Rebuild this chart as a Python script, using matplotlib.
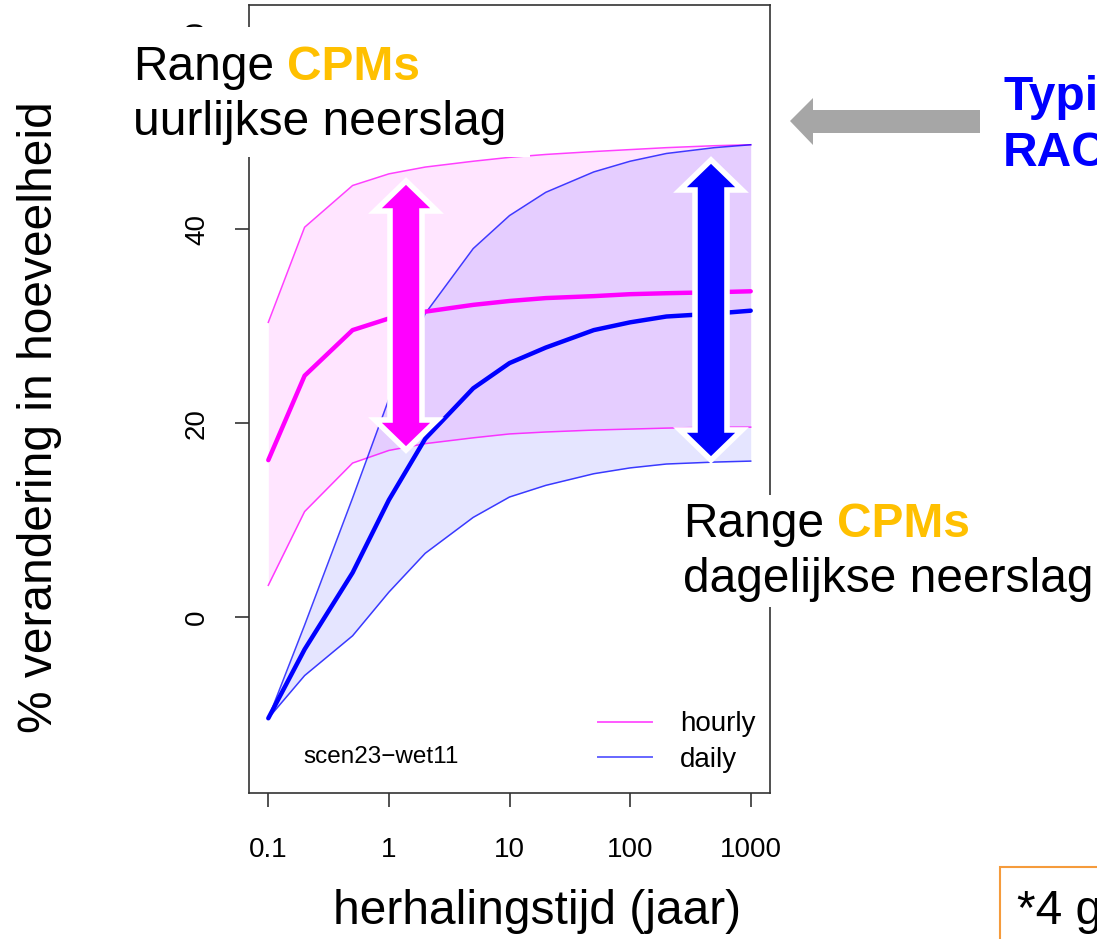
import numpy as np
import matplotlib
matplotlib.use("Agg")
import matplotlib.pyplot as plt
from matplotlib.patches import Polygon, Rectangle

plt.rcParams["font.family"] = ["Liberation Sans", "DejaVu Sans"]

# return periods (years) and % change in amount
periods = [0.1, 0.2, 0.5, 1, 2, 5, 10, 20, 50, 100, 200, 500, 1000]
hourly_mean = [16.2, 24.9, 29.6, 30.8, 31.5, 32.2, 32.6, 32.9, 33.1, 33.3, 33.4, 33.5, 33.6]
hourly_hi = [30.4, 40.2, 44.5, 45.7, 46.4, 47.0, 47.4, 47.7, 48.0, 48.2, 48.4, 48.6, 48.7]
hourly_lo = [3.3, 10.9, 15.9, 17.2, 17.9, 18.5, 18.9, 19.1, 19.3, 19.4, 19.5, 19.6, 19.6]
daily_mean = [-10.4, -3.3, 4.6, 12.1, 18.4, 23.6, 26.2, 27.8, 29.6, 30.4, 31.0, 31.3, 31.6]
daily_hi = [-10.4, -0.8, 12.3, 22.5, 31.3, 38.0, 41.4, 43.8, 45.9, 47.0, 47.8, 48.4, 48.7]
daily_lo = [-10.4, -6.0, -1.9, 2.6, 6.6, 10.3, 12.4, 13.6, 14.8, 15.4, 15.8, 16.0, 16.1]

xticks = [0.1, 1, 10, 100, 1000]
xticklabels = ["0.1", "1", "10", "100", "1000"]
yticks = [0, 20, 40, 60]

W, H = 1097, 939
ORANGE = "#FFC000"

fig = plt.figure(figsize=(W / 100, H / 100), dpi=100)
ax = fig.add_axes([249 / W, 1 - 793 / H, 521 / W, 788 / H])

ax.fill_between(periods, hourly_lo, hourly_hi, color="magenta", alpha=0.1, lw=0)
ax.fill_between(periods, daily_lo, daily_hi, color="blue", alpha=0.1, lw=0)
for lo, hi, c in [(hourly_lo, hourly_hi, "magenta"), (daily_lo, daily_hi, "blue")]:
    ax.plot(periods, lo, color=c, lw=1.1, alpha=0.75)
    ax.plot(periods, hi, color=c, lw=1.1, alpha=0.75)
ax.plot(periods, hourly_mean, color="magenta", lw=3.2, solid_capstyle="round")
ax.plot(periods, daily_mean, color="blue", lw=3.2, solid_capstyle="round")

ax.set_xscale("log")
ax.set_xlim(10 ** -1.16, 10 ** 3.16)
ax.set_ylim(-18.1, 63.1)
ax.set_xticks(xticks)
ax.set_xticklabels(xticklabels)
ax.minorticks_off()
ax.set_yticks(yticks)
ax.tick_params(axis="both", length=10, width=1.2, color="#333333", labelsize=20)
ax.tick_params(axis="x", pad=22)
ax.tick_params(axis="y", pad=18)
for lab in ax.get_yticklabels():
    lab.set_rotation(90)
    lab.set_va("center")
for s in ax.spines.values():
    s.set_color("#333333")
    s.set_linewidth(1.2)

ax.set_xlabel("herhalingstijd (jaar)", fontsize=34.5)
ax.set_ylabel("% verandering in hoeveelheid", fontsize=34.5)
ax.yaxis.set_label_coords(-(249 - 62) / 521, 0.477)
ax.xaxis.set_label_coords(0.5 + 28 / 521, -(889 - 793) / 788)

ax.text(0.104, 0.046, "scen23\u2212wet11", transform=ax.transAxes, fontsize=17.5, va="center")

h1, = ax.plot([], [], color="magenta", lw=1.4, alpha=0.65)
h2, = ax.plot([], [], color="blue", lw=1.4, alpha=0.6)
ax.legend([h1, h2], ["hourly", "daily"], loc="lower left", bbox_to_anchor=(0.632, 0.001),
          frameon=False, fontsize=20, handlelength=1.95, handletextpad=1.0,
          labelspacing=0.34, borderpad=0.2)

# overlay in pixel coordinates for the callouts
ov = fig.add_axes([0, 0, 1, 1], zorder=5)
ov.set_xlim(0, W)
ov.set_ylim(H, 0)
ov.axis("off")
ov.patch.set_alpha(0)


def double_arrow(cx, top, bottom, color):
    sw, hw, hl = 16, 31, 30
    pts = [(cx, top), (cx + hw, top + hl), (cx + sw, top + hl), (cx + sw, bottom - hl),
           (cx + hw, bottom - hl), (cx, bottom), (cx - hw, bottom - hl), (cx - sw, bottom - hl),
           (cx - sw, top + hl), (cx - hw, top + hl)]
    ov.add_patch(Polygon(pts, closed=True, facecolor=color, edgecolor="white",
                         lw=4, joinstyle="miter"))


double_arrow(406, 181, 450, "#FF00FF")
double_arrow(711, 160, 460, "#0000FF")

# grey pointer towards the top of the plot
ov.add_patch(Polygon([(790, 121), (813, 98), (813, 110), (980, 110), (980, 133),
                      (813, 133), (813, 145)], closed=True, facecolor="#A6A6A6",
                     edgecolor="none"))

ov.add_patch(Rectangle((125, 27), 405, 130, facecolor="white", edgecolor="none"))
ov.add_patch(Rectangle((670, 495), 440, 112, facecolor="white", edgecolor="none"))

fig.canvas.draw()
renderer = fig.canvas.get_renderer()
big = 34.5


def range_label(x, y1, y2, second):
    t = ov.text(x, y1, "Range", fontsize=big, va="baseline")
    w = t.get_window_extent(renderer).width
    ov.text(x + w + 0.278 * big / 0.72, y1, "CPMs", fontsize=big, va="baseline",
            color=ORANGE, fontweight="bold")
    ov.text(x, y2, second, fontsize=big, va="baseline")


range_label(133, 80, 135, "uurlijkse neerslag")
range_label(683, 537, 592, "dagelijkse neerslag")

ov.text(1003, 110, "Typisch", fontsize=big, va="baseline", color="#0000FF", fontweight="bold")
ov.text(1003, 166, "RACMO", fontsize=big, va="baseline", color="#0000FF", fontweight="bold")

ov.add_patch(Rectangle((1000, 867), 120, 100, facecolor="white", edgecolor="#F59B3C", lw=1.5))
ov.text(1017, 912, "*4 g", fontsize=big, va="center")

fig.savefig("out.png", dpi=100)
